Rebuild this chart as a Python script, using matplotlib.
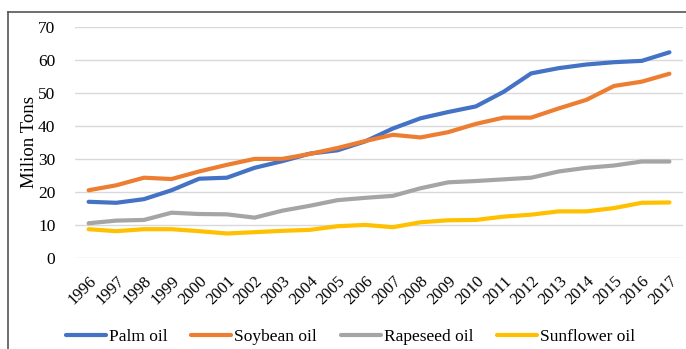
import numpy as np
import matplotlib.pyplot as plt
from matplotlib.lines import Line2D

plt.rcParams["font.family"] = "serif"
plt.rcParams["font.serif"] = ["Liberation Serif", "DejaVu Serif"]

years = list(range(1996, 2018))
palm = [17.0, 16.7, 17.8, 20.5, 24.0, 24.3, 27.3, 29.3, 31.6, 32.6, 35.3,
        39.2, 42.3, 44.2, 45.9, 50.3, 55.9, 57.5, 58.6, 59.3, 59.7, 62.3]
soybean = [20.5, 22.0, 24.3, 23.9, 26.2, 28.2, 30.0, 30.0, 31.5, 33.3, 35.4,
           37.3, 36.5, 38.1, 40.6, 42.5, 42.5, 45.3, 47.9, 52.1, 53.4, 55.8]
rapeseed = [10.5, 11.3, 11.5, 13.7, 13.3, 13.2, 12.2, 14.3, 15.8, 17.5, 18.2,
            18.8, 21.1, 22.9, 23.3, 23.8, 24.3, 26.2, 27.3, 28.0, 29.2, 29.2]
sunflower = [8.7, 8.1, 8.7, 8.7, 8.1, 7.4, 7.8, 8.2, 8.5, 9.6, 10.0,
             9.3, 10.8, 11.4, 11.5, 12.5, 13.1, 14.1, 14.1, 15.1, 16.7, 16.8]

series = [("Palm oil", palm, "#4472C4"),
          ("Soybean oil", soybean, "#ED7D31"),
          ("Rapeseed oil", rapeseed, "#A5A5A5"),
          ("Sunflower oil", sunflower, "#FFC000")]

fig = plt.figure(figsize=(6.86, 3.49), dpi=100)
ax = fig.add_axes([0.109, 0.261, 0.887, 0.662])

for name, vals, col in series:
    ax.plot(years, vals, color=col, lw=3, label=name, solid_capstyle="round")

ax.set_xlim(1995.5, 2017.5)
ax.set_ylim(0, 70)
ax.set_yticks(range(0, 71, 10))
ax.set_xticks(years)
ax.set_xticklabels([str(y) for y in years], rotation=45, ha="right",
                   rotation_mode="anchor", fontsize=12)
ax.tick_params(axis="y", labelsize=12.5, length=0, pad=14)
ax.tick_params(axis="x", length=0, pad=11)
ax.grid(axis="y", color="#D9D9D9", lw=1)
ax.set_axisbelow(True)
for s in ax.spines.values():
    s.set_visible(False)
ax.set_ylabel("Milion Tons", fontsize=13.5, labelpad=0)

fig.legend(loc="center", bbox_to_anchor=(0.511, 0.035), ncol=4, frameon=False,
           fontsize=12.5, handlelength=2.3, handletextpad=0.15,
           columnspacing=1.4)

# frame of the cropped figure
fig.add_artist(Line2D([8 / 686, 8 / 686], [0, 1 - 12 / 349], color="#555555", lw=1.2))
fig.add_artist(Line2D([8 / 686, 1], [1 - 12 / 349, 1 - 12 / 349], color="#555555", lw=1.2))

fig.savefig("out.png", dpi=100)
